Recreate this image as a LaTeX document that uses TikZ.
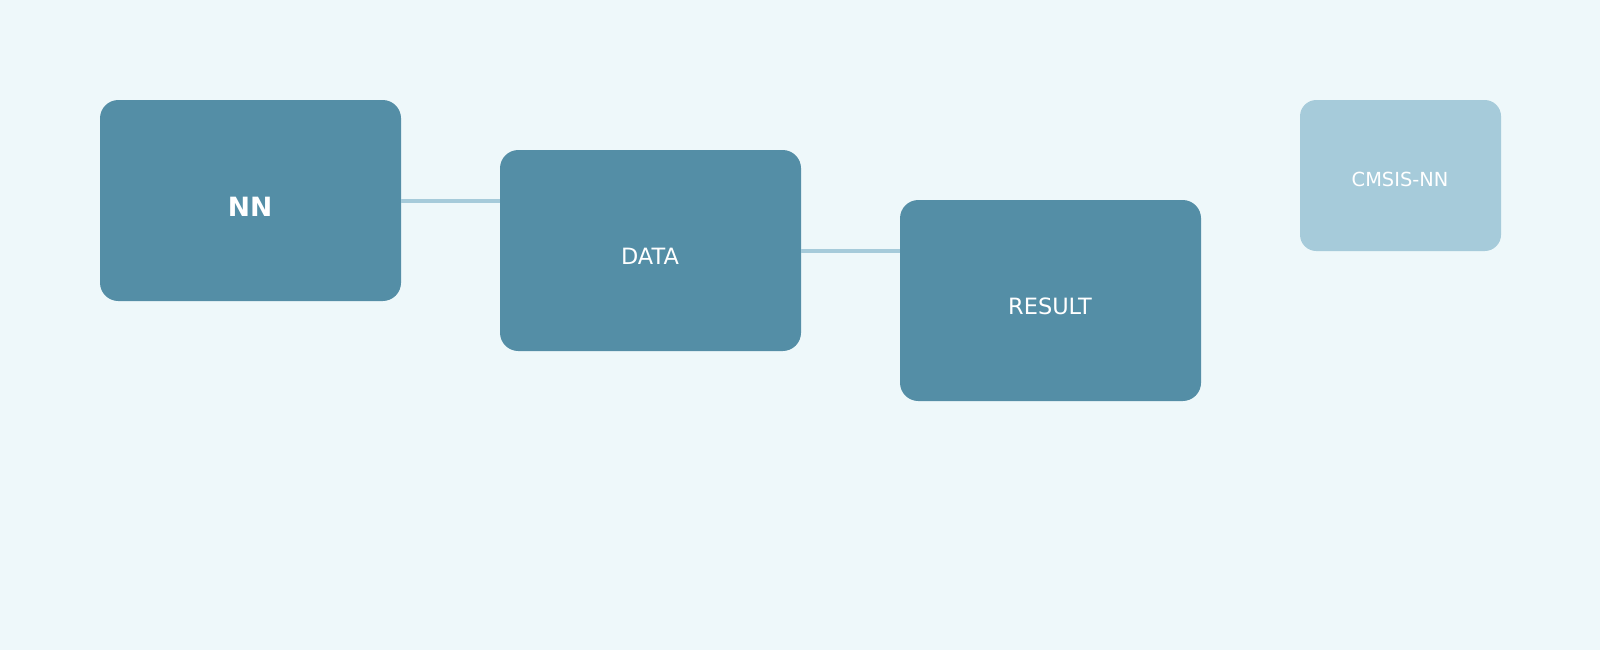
\documentclass[tikz,border=0pt]{standalone}
\usepackage{fontspec}
\setmainfont{DejaVu Sans}
\begin{document}
\begin{tikzpicture}[x=1pt,y=-1pt,
  box/.style={fill=boxc,draw=none,rounded corners=18pt},
  small/.style={fill=lightc,draw=none,rounded corners=16pt},
  lbl/.style={text=white,font=\fontsize{22}{26}\selectfont},
  conn/.style={draw=lightc,line width=3pt}]
\definecolor{bg}{HTML}{EEF8FA}
\definecolor{boxc}{HTML}{548EA6}
\definecolor{lightc}{HTML}{A6CBDA}
\fill[bg] (0,0) rectangle (1568,637);
\useasboundingbox (0,0) rectangle (1568,637);
\path[box] (98,98) rectangle (393,295);
\path[box] (490,147) rectangle (785,344);
\path[box] (882,196) rectangle (1177,393);
\path[small] (1274,98) rectangle (1471,246);
\coordinate (nnR) at (393,197);
\coordinate (dataL) at (490,197);
\coordinate (dataR) at (785,246);
\coordinate (resL) at (882,246);
\draw[conn] (nnR) -- (dataL);
\draw[conn] (dataR) -- (resL);
\node[lbl,font=\fontsize{26}{30}\selectfont\bfseries] (nn) at (245,203) {NN};
\node[lbl] (data) at (637,251) {DATA};
\node[lbl] (res) at (1029,300) {RESULT};
\node[lbl,font=\fontsize{19}{23}\selectfont] (cm) at (1372,176) {CMSIS-NN};
\end{tikzpicture}
\end{document}
